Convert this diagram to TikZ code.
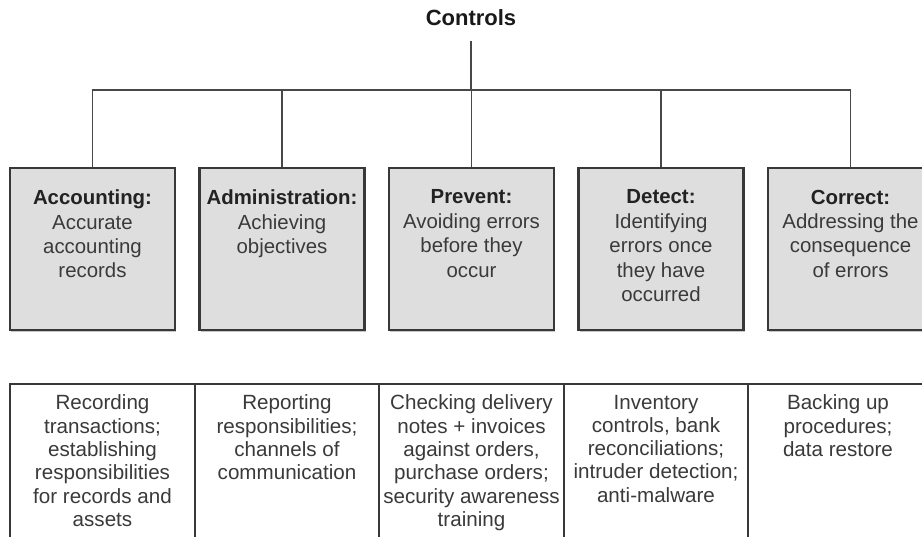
\documentclass[tikz,border=0pt]{standalone}
\usepackage{fontspec}
\setmainfont{Liberation Sans}
\usetikzlibrary{shadows}
\definecolor{boxfill}{HTML}{DEDEDE}
\definecolor{linegray}{HTML}{484848}
\definecolor{boxedge}{HTML}{383838}
\definecolor{txtgray}{HTML}{3A3A3A}
\definecolor{headtxt}{HTML}{222222}
\tikzset{
  ctrlbox/.style={draw=boxedge, line width=2.2pt, fill=boxfill, minimum width=165pt, minimum height=162pt, inner sep=0pt, anchor=north, drop shadow={shadow xshift=1pt, shadow yshift=-1.5pt, fill=black!22, opacity=1}},
  boxtext/.style={anchor=north, align=center, inner sep=0pt, text=txtgray, font=\fontsize{20.4}{24.4}\selectfont},
  celltext/.style={anchor=north, align=center, inner sep=0pt, text=txtgray, font=\fontsize{20.6}{23.3}\selectfont},
  conn/.style={draw=linegray, line width=1.9pt},
  gridline/.style={draw=boxedge, line width=2pt},
  head/.style={font=\bfseries, text=headtxt}
}
\begin{document}
\begin{tikzpicture}[x=1pt, y=-1pt]
\useasboundingbox (0,0) rectangle (922,537);
\clip (0,0) rectangle (922,537);
\fill[white] (0,0) rectangle (922,537);

% title
\node[font=\fontsize{22}{26}\selectfont\bfseries, text=black!90, anchor=base, inner xsep=0pt, inner ysep=15pt] (ctrl) at (471,26) {Controls};
\coordinate (hub) at (471,90);

% category boxes
\node[ctrlbox] (b1) at (92.5,167) {};
\node[ctrlbox] (b2) at (282,167) {};
\node[ctrlbox] (b3) at (471.5,167) {};
\node[ctrlbox] (b4) at (661,167) {};
\node[ctrlbox] (b5) at (850.5,167) {};

\node[boxtext] (t1) at (92.5,189.7) {{\color{headtxt}\bfseries Accounting:}\\Accurate\\accounting\\records};
\node[boxtext] (t2) at (282,189.7) {{\color{headtxt}\bfseries Administration:}\\Achieving\\objectives};
\node[boxtext] (t3) at (471.5,189.7) {{\color{headtxt}\bfseries Prevent:}\\Avoiding errors\\before they\\occur};
\node[boxtext] (t4) at (661,189.7) {{\color{headtxt}\bfseries Detect:}\\Identifying\\errors once\\they have\\occurred};
\node[boxtext] (t5) at (850.5,189.7) {{\color{headtxt}\bfseries Correct:}\\Addressing the\\consequence\\of errors};

% connectors
\draw[conn] (ctrl.south) -- (hub);
\draw[conn] (b1.north) |- (hub) -| (b5.north);
\foreach \b in {b2,b3,b4} \draw[conn] (\b.north |- hub) -- (\b.north);

% examples table
\draw[gridline] (10,540) -- (10,384) -- (925,384);
\foreach \x in {195,379,564,748} \draw[gridline] (\x,384) -- (\x,540);

\node[celltext] (e1) at (102.5,394.7) {Recording\\transactions;\\establishing\\responsibilities\\for records and\\assets};
\node[celltext] (e2) at (287,394.7) {Reporting\\responsibilities;\\channels of\\communication};
\node[celltext] (e3) at (471.5,394.7) {Checking delivery\\notes + invoices\\against orders,\\purchase orders;\\security awareness\\training};
\node[celltext] (e4) at (656,394.7) {Inventory\\controls, bank\\reconciliations;\\intruder detection;\\anti-malware};
\node[celltext] (e5) at (838,394.7) {Backing up\\procedures;\\data restore};
\end{tikzpicture}
\end{document}
